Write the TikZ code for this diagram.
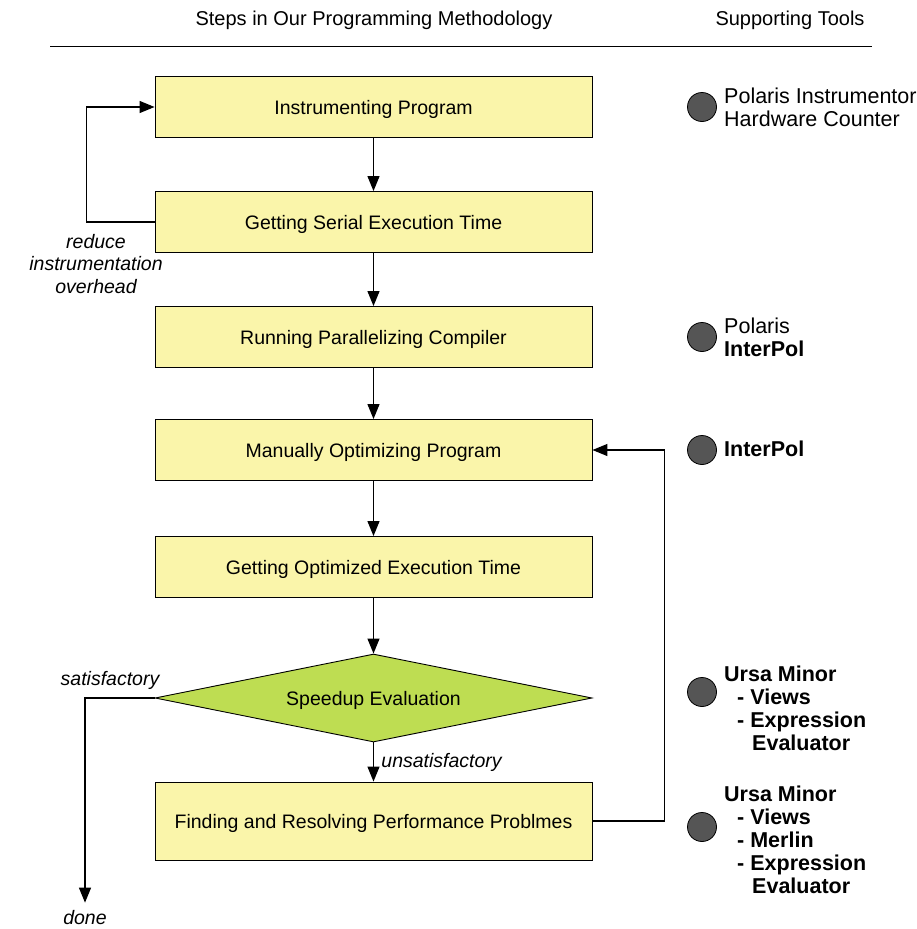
\documentclass[tikz,border=0pt]{standalone}
\usepackage{fontspec}
\setmainfont{Liberation Sans}
\usetikzlibrary{shapes.geometric,arrows.meta}
\definecolor{stepfill}{RGB}{250,245,170}
\definecolor{evalfill}{RGB}{190,221,82}
\definecolor{dotfill}{RGB}{85,85,85}

\begin{document}
\begin{tikzpicture}[x=1pt,y=-1pt,
  every node/.style={font=\fontsize{19.5}{22.5}\selectfont},
  stepbox/.style={draw, fill=stepfill, line width=0.9pt, inner sep=0pt,
    text depth=0pt, minimum width=437pt, minimum height=61pt},
  evalbox/.style={draw, fill=evalfill, line width=0.9pt, diamond, aspect=5,
    inner sep=0pt, text depth=0pt, minimum width=437pt, minimum height=88pt},
  flow/.style={line width=1.2pt, -{Triangle[length=15pt,width=12pt]}},
  tooldot/.style={draw, circle, fill=dotfill, line width=0.8pt, inner sep=0pt,
    minimum size=29pt},
  tooltext/.style={anchor=west, align=left, inner sep=0pt,
    font=\fontsize{21.5}{23}\selectfont},
  remark/.style={font=\fontsize{19.5}{22.5}\selectfont\itshape}]
  \useasboundingbox (0,0) rectangle (917,929);
  \node[font=\fontsize{20}{24}\selectfont] (methodhead) at (374,20) {Steps in Our Programming Methodology};
  \node[font=\fontsize{20}{24}\selectfont] (toolhead) at (790,20) {Supporting Tools};
  \draw[line width=0.8pt] (50,46) -- (872,46);

  \node[stepbox] (instr) at (373.5,107) {Instrumenting Program};
  \node[stepbox] (serial) at (373.5,222) {Getting Serial Execution Time};
  \node[stepbox] (parcomp) at (373.5,337) {Running Parallelizing Compiler};
  \node[stepbox] (manual) at (373.5,450) {Manually Optimizing Program};
  \node[stepbox] (opttime) at (373.5,567) {Getting Optimized Execution Time};
  \node[evalbox] (speedup) at (373.5,698) {Speedup Evaluation};
  \node[stepbox, minimum height=78pt] (finding) at (373.5,821)
    {Finding and Resolving Performance Problmes};

  \draw[flow] (instr) -- (serial);
  \draw[flow] (serial) -- (parcomp);
  \draw[flow] (parcomp) -- (manual);
  \draw[flow] (manual) -- (opttime);
  \draw[flow] (opttime) -- (speedup);
  \draw[flow] (speedup) -- node[remark, anchor=west, xshift=4pt] (unsat) {unsatisfactory} (finding);
  \draw[flow] (serial.west) -- ++(-68,0) |- (instr.west);
  \draw[flow] (finding.east) -- ++(72,0) |- (manual.east);

  \node[remark, align=center] (reduce) at (96,264) {reduce\\instrumentation\\overhead};
  \node[remark] (satis) at (110,680) {satisfactory};
  \node[remark, inner sep=0pt] (done) at (85,918) {done};
  \draw[flow] (speedup.west) -| ([yshift=8pt]done.north);

  \node[tooldot] (dot1) at (702,107) {};
  \node[tooldot] (dot2) at (702,337) {};
  \node[tooldot] (dot3) at (702,450) {};
  \node[tooldot] (dot4) at (702,692) {};
  \node[tooldot] (dot5) at (702,827) {};
  \node[tooltext] (tool1) at (724,107) {Polaris Instrumentor\\Hardware Counter};
  \node[tooltext] (tool2) at (724,337) {Polaris\\\textbf{InterPol}};
  \node[tooltext] (tool3) at (724,449) {\textbf{InterPol}};
  \node[tooltext, font=\fontsize{21.5}{23}\selectfont\bfseries] (tool4) at (724,708)
    {Ursa Minor\\\hspace*{13pt}- Views\\\hspace*{13pt}- Expression\\\hspace*{28pt}Evaluator};
  \node[tooltext, font=\fontsize{21.5}{23}\selectfont\bfseries] (tool5) at (724,840)
    {Ursa Minor\\\hspace*{13pt}- Views\\\hspace*{13pt}- Merlin\\\hspace*{13pt}- Expression\\\hspace*{28pt}Evaluator};
\end{tikzpicture}
\end{document}
